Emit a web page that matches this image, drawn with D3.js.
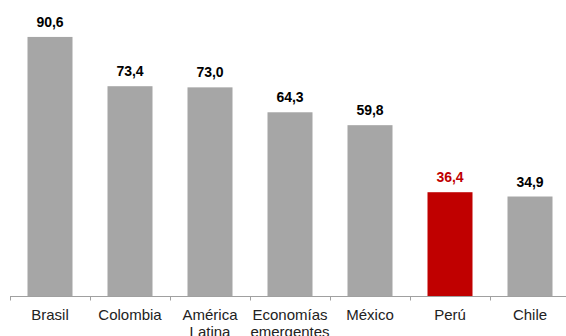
<!DOCTYPE html>
<html>
<head>
<meta charset="utf-8">
<script src="https://cdn.jsdelivr.net/npm/d3@7"></script>
<style>
  body { margin: 0; background: #fff; }
  svg { display: block; font-family: "Liberation Sans", Arial, sans-serif; }
</style>
</head>
<body>
<svg id="chart" width="566" height="336"></svg>
<script>
const categories = ["Brasil", "Colombia", "América Latina", "Economías emergentes", "México", "Perú", "Chile"];
const values = [90.6, 73.4, 73.0, 64.3, 59.8, 36.4, 34.9];
const highlight = "Perú";

const width = 566, height = 336;
const svg = d3.select("#chart");

const x = d3.scaleBand()
    .domain(categories)
    .range([10, 570])
    .paddingInner(0.4375)
    .paddingOuter(0.21875);

const y = d3.scaleLinear()
    .domain([0, 100])
    .range([296.5, 10]);

// bars
svg.selectAll("rect.bar")
    .data(values)
    .enter().append("rect")
    .attr("class", "bar")
    .attr("x", (d, i) => x(categories[i]))
    .attr("y", d => y(d))
    .attr("width", x.bandwidth())
    .attr("height", d => y(0) - y(d))
    .attr("fill", (d, i) => categories[i] === highlight ? "#c00000" : "#a6a6a6");

// value labels
svg.selectAll("text.val")
    .data(values)
    .enter().append("text")
    .attr("class", "val")
    .attr("x", (d, i) => x(categories[i]) + x.bandwidth() / 2)
    .attr("y", d => y(d) - 10)
    .attr("text-anchor", "middle")
    .attr("font-size", "14px")
    .attr("font-weight", "bold")
    .attr("fill", (d, i) => categories[i] === highlight ? "#c00000" : "#000")
    .text(d => d.toFixed(1).replace(".", ","));

// axis line + ticks between categories
const axisY = y(0);
svg.append("line")
    .attr("x1", 10).attr("x2", width)
    .attr("y1", axisY).attr("y2", axisY)
    .attr("stroke", "#a0a0a0");

const step = x.step();
const tickXs = d3.range(categories.length).map(i => x(categories[i]) - x.paddingInner() * step / 2);
svg.selectAll("line.tick")
    .data(tickXs)
    .enter().append("line")
    .attr("class", "tick")
    .attr("x1", d => Math.round(d) + 0.5).attr("x2", d => Math.round(d) + 0.5)
    .attr("y1", axisY).attr("y2", axisY + 4)
    .attr("stroke", "#a0a0a0");

// category labels (two-word names wrap, second line runs off the bottom as in the original)
const cat = svg.selectAll("text.cat")
    .data(categories)
    .enter().append("text")
    .attr("class", "cat")
    .attr("x", d => x(d) + x.bandwidth() / 2)
    .attr("y", 320)
    .attr("text-anchor", "middle")
    .attr("font-size", "15px")
    .attr("fill", "#222");

cat.each(function(d) {
    const words = d.split(" ");
    const t = d3.select(this);
    words.forEach((w, k) => {
        t.append("tspan")
            .attr("x", x(d) + x.bandwidth() / 2)
            .attr("dy", k === 0 ? 0 : 17)
            .text(w);
    });
});
</script>
</body>
</html>
